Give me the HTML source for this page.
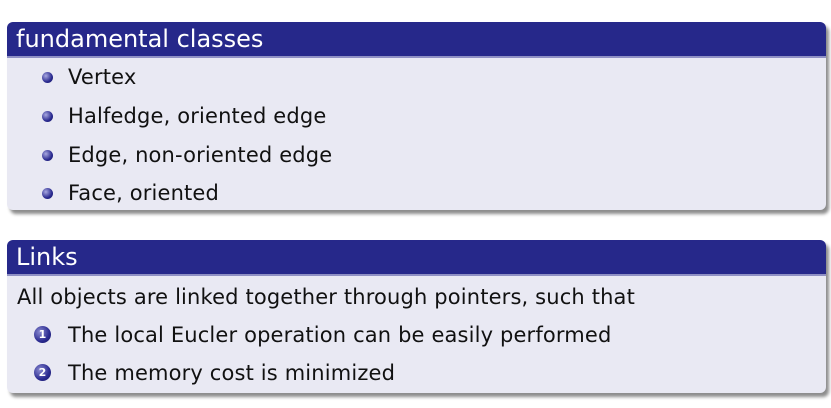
<!DOCTYPE html>
<html><head><style>
body{margin:0;width:831px;height:408px;background:#fff;font-family:"DejaVu Sans","Liberation Sans",sans-serif;position:relative;overflow:hidden}
.box{position:absolute;left:7px;width:819px;background:#e9e9f3;border-radius:6px;box-shadow:3px 4px 3px rgba(0,0,0,0.45)}
.hd{background:#26288a;color:#fff;height:34px;border-radius:6px 6px 0 0;font-size:24px;line-height:34px;padding-left:9px;border-bottom:2px solid #8f90c4}
.t{position:absolute;font-size:21px;color:#111;white-space:nowrap;line-height:24px;letter-spacing:0.15px}
.b{position:absolute;width:11px;height:11px;border-radius:50%;background:radial-gradient(circle at 35% 35%,#a8a8e0,#2a2a90 60%,#151560)}
.n{position:absolute;width:17px;height:17px;border-radius:50%;background:radial-gradient(circle at 35% 35%,#8a8ad0,#2a2a90 60%,#151560);color:#fff;font-size:11px;font-weight:bold;text-align:center;line-height:17px}
</style></head><body>
<div class="box" style="top:22px;height:188px"><div class="hd">fundamental classes</div></div>
<div class="b" style="left:42px;top:72px"></div><div class="t" style="left:68px;top:65px">Vertex</div>
<div class="b" style="left:42px;top:111px"></div><div class="t" style="left:68px;top:104px">Halfedge, oriented edge</div>
<div class="b" style="left:42px;top:150px"></div><div class="t" style="left:68px;top:143px">Edge, non-oriented edge</div>
<div class="b" style="left:42px;top:188px"></div><div class="t" style="left:68px;top:181px">Face, oriented</div>
<div class="box" style="top:240px;height:153px"><div class="hd">Links</div></div>
<div class="t" style="left:17px;top:285px">All objects are linked together through pointers, such that</div>
<div class="n" style="left:34px;top:326px">1</div><div class="t" style="left:68px;top:323px">The local Eucler operation can be easily performed</div>
<div class="n" style="left:34px;top:364px">2</div><div class="t" style="left:68px;top:361px">The memory cost is minimized</div>
</body></html>
